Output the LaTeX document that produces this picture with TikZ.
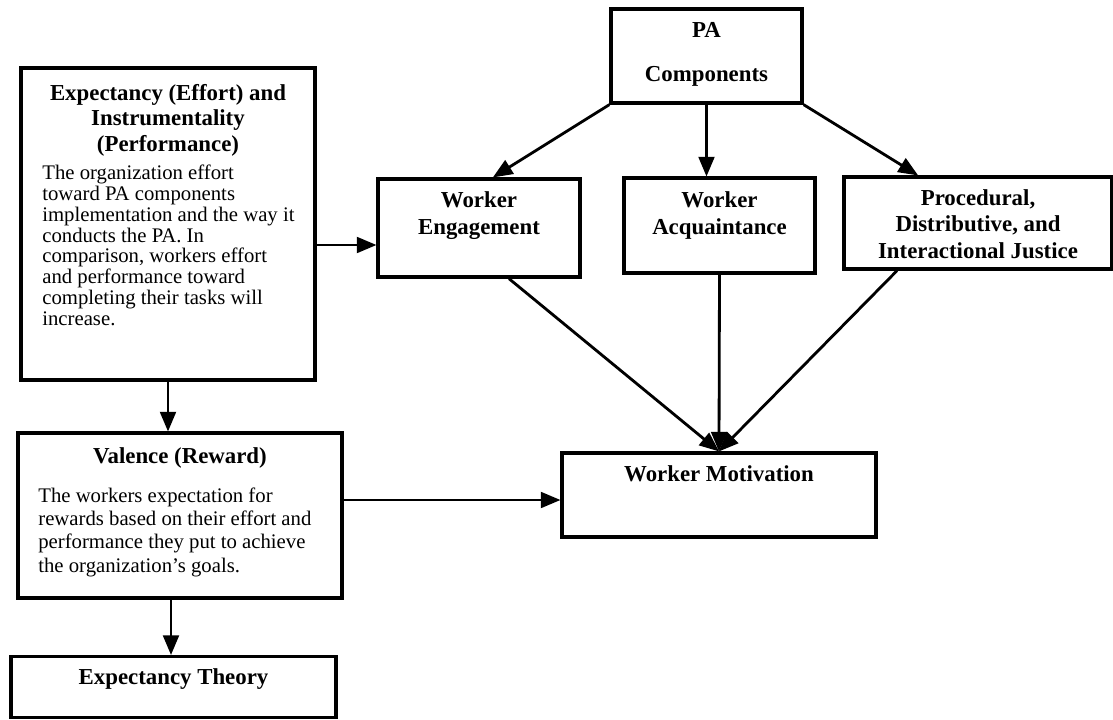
\documentclass[tikz,border=0pt]{standalone}
\usepackage{fontspec}
\setmainfont{Liberation Serif}
\usetikzlibrary{arrows,positioning}

\newlength\pxu
\setlength\pxu{0.02cm}

\begin{document}
\begin{tikzpicture}[x=0.02cm, y=-0.02cm]%
  \tikzset{box/.style={draw, rectangle, line width=1.9pt, inner sep=0pt},
           normal arrow/.style={draw, -triangle 45, line width=1.6pt}}
  \tikzstyle{head}=[font=\bfseries\fontsize{13}{14.8}\selectfont, align=center, anchor=base, inner sep=0pt]
  \tikzstyle{body}=[font=\fontsize{11.8}{11.8}\selectfont, align=left, anchor=base west, inner sep=0pt]

  \useasboundingbox (0,0) rectangle (1113,720);

  % boxes
  \node[box, minimum width=294\pxu, minimum height=312\pxu] at (168,224) (expect) {};
  \node[box, minimum width=191\pxu, minimum height=94\pxu] at (706.5,56) (pa) {};
  \node[box, minimum width=202\pxu, minimum height=98\pxu] at (479,228) (we) {};
  \node[box, minimum width=191\pxu, minimum height=95\pxu] at (719.5,225.5) (wa) {};
  \node[box, minimum width=268\pxu, minimum height=92\pxu] at (978,223) (pdi) {};
  \node[box, minimum width=314\pxu, minimum height=84\pxu] at (719,495) (wm) {};
  \node[box, minimum width=324\pxu, minimum height=165\pxu] at (180,515.5) (val) {};
  \node[box, minimum width=325\pxu, minimum height=61\pxu] at (173.5,687) (et) {};

  % texts (base = last line)
  \node[head, font=\bfseries\fontsize{13}{14.5}\selectfont] at (168,151) (expectT) {Expectancy (Effort) and\\Instrumentality\\(Performance)};
  \node[body] at (42,325) (expectB) {The organization effort\\toward PA components\\implementation and the way it\\conducts the PA. In\\comparison, workers effort\\and performance toward\\completing their tasks will\\increase.};
  \node[head, font=\bfseries\fontsize{13}{24.5}\selectfont] at (706.5,81) (paT) {PA\\Components};
  \node[head] at (479,234) (weT) {Worker\\Engagement};
  \node[head] at (719.5,234) (waT) {Worker\\Acquaintance};
  \node[head] at (978,258) (pdiT) {Procedural,\\Distributive, and\\Interactional Justice};
  \node[head] at (719,481) (wmT) {Worker Motivation};
  \node[head] at (180,463) (valT) {Valence (Reward)};
  \node[body, font=\fontsize{11.8}{13.1}\selectfont] at (38,572) (valB) {The workers expectation for\\rewards based on their effort and\\performance they put to achieve\\the organization’s goals.};
  \node[head] at (173.5,684) (etT) {Expectancy Theory};

  % arrows
  \coordinate (weIn) at ([yshift=-17\pxu]we.west);
  \coordinate (wmIn) at ([yshift=-5\pxu]wm.west);
  \path[normal arrow] (pa.south west) -- ([xshift=14\pxu]we.north);
  \path[normal arrow] (pa.south) -- (pa.south |- wa.north);
  \path[normal arrow] (pa.south east) -- ([xshift=-60\pxu]pdi.north);
  \path[normal arrow] ([xshift=30\pxu]we.south) -- (wm.north);
  \path[normal arrow] (wa.south) -- (wm.north);
  \path[normal arrow] ([xshift=-81\pxu]pdi.south) -- (wm.north);
  \path[normal arrow] (expect.east |- weIn) -- (weIn);
  \path[normal arrow] (expect.south) -- (expect.south |- val.north);
  \path[normal arrow] ([xshift=-9\pxu]val.south) -- ([xshift=-9\pxu]val.south |- et.north);
  \path[normal arrow] (val.east |- wmIn) -- (wmIn);
\end{tikzpicture}
\end{document}
